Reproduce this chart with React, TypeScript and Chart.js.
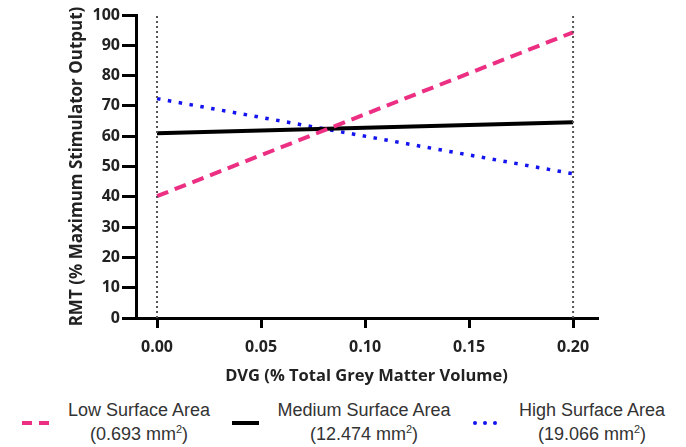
import React, { useEffect, useRef } from "react";
import { Chart, registerables } from "chart.js";

Chart.register(...registerables);

// ---- data ----
const xEnds = [0, 0.2];
const lowValues = [40.2, 94.3];
const mediumValues = [61.0, 64.6];
const highValues = [72.4, 47.6];
const xTicks = [0, 0.05, 0.1, 0.15, 0.2];
const yTicks = [0, 10, 20, 30, 40, 50, 60, 70, 80, 90, 100];
const refLineX = [0, 0.2];
const refLineY = [0, 100];

const legendItems = [
  { name: "Low Surface Area", area: "(0.693 mm", kind: "dash" },
  { name: "Medium Surface Area", area: "(12.474 mm", kind: "solid" },
  { name: "High Surface Area", area: "(19.066 mm", kind: "dot" },
];

const PINK = "#ec2f83";
const BLUE = "#1414ee";
const TICK_FONT = { family: "'Open Sans', sans-serif", size: 16, weight: "bold" as const };
const YTITLE_FONT = { family: "'Open Sans', sans-serif", size: 17, weight: "bold" as const };
const XTITLE_FONT = { family: "'Open Sans', sans-serif", size: 16.5, weight: "bold" as const };

function LegendSample({ kind }: { kind: string }) {
  if (kind === "dash") {
    return (
      <div style={{ position: "relative", width: 28, height: 4 }}>
        <div style={{ position: "absolute", left: 0, top: 0, width: 10, height: 4, background: PINK }} />
        <div style={{ position: "absolute", left: 17, top: 0, width: 10, height: 4, background: PINK }} />
      </div>
    );
  }
  if (kind === "solid") {
    return <div style={{ width: 27, height: 4, background: "#000" }} />;
  }
  return (
    <div style={{ position: "relative", width: 26, height: 4 }}>
      {[0, 10, 20].map((l) => (
        <div key={l} style={{ position: "absolute", left: l, top: 0, width: 3.5, height: 3.5, borderRadius: 2, background: BLUE }} />
      ))}
    </div>
  );
}

export default function App() {
  const ref = useRef<HTMLCanvasElement | null>(null);

  useEffect(() => {
    if (!ref.current) return;
    const toPts = (ys: number[]) => xEnds.map((x, i) => ({ x, y: ys[i] }));
    const refStyle = {
      showLine: true,
      borderColor: "#555",
      borderWidth: 2,
      borderDash: [2, 3],
      pointRadius: 0,
    };
    const chart = new Chart(ref.current, {
      type: "scatter",
      data: {
        datasets: [
          { ...refStyle, data: refLineY.map((y) => ({ x: refLineX[0], y })) },
          { ...refStyle, data: refLineY.map((y) => ({ x: refLineX[1], y })) },
          {
            label: "Low Surface Area",
            data: toPts(lowValues),
            showLine: true,
            borderColor: PINK,
            borderWidth: 4,
            borderDash: [12, 7],
            pointRadius: 0,
          },
          {
            label: "Medium Surface Area",
            data: toPts(mediumValues),
            showLine: true,
            borderColor: "#000",
            borderWidth: 4,
            pointRadius: 0,
          },
          {
            label: "High Surface Area",
            data: toPts(highValues),
            showLine: true,
            borderColor: BLUE,
            borderWidth: 3.5,
            borderDash: [3.5, 7.5],
            pointRadius: 0,
          },
        ],
      },
      options: {
        animation: false,
        responsive: false,
        maintainAspectRatio: false,
        layout: { padding: { top: 15, right: 89, left: 0, bottom: 0 } },
        plugins: { legend: { display: false }, tooltip: { enabled: false } },
        scales: {
          x: {
            type: "linear",
            min: -0.0101,
            max: 0.2115,
            afterFit: (s: any) => {
              s.height = 77;
            },
            afterBuildTicks: (s: any) => {
              s.ticks = xTicks.map((v) => ({ value: v }));
            },
            ticks: {
              font: TICK_FONT,
              color: "#222",
              padding: 10,
              maxRotation: 0,
              autoSkip: false,
              callback: (v: any) => Number(v).toFixed(2),
            },
            grid: {
              drawOnChartArea: false,
              drawTicks: true,
              tickLength: 10,
              tickWidth: 3,
              tickColor: "#000",
              lineWidth: 3,
              color: "#000",
            },
            border: { display: true, color: "#000", width: 3 },
            title: {
              display: true,
              text: "DVG (% Total Grey Matter Volume)",
              font: XTITLE_FONT,
              color: "#222",
              padding: { top: 0, bottom: 9 },
            },
          },
          y: {
            type: "linear",
            min: 0,
            max: 100,
            afterFit: (s: any) => {
              s.width = 136;
            },
            afterBuildTicks: (s: any) => {
              s.ticks = yTicks.map((v) => ({ value: v }));
            },
            ticks: {
              font: TICK_FONT,
              color: "#222",
              padding: 2,
              autoSkip: false,
            },
            grid: {
              drawOnChartArea: false,
              drawTicks: true,
              tickLength: 14,
              tickWidth: 3,
              tickColor: "#000",
              lineWidth: 3,
              color: "#000",
            },
            border: { display: true, color: "#000", width: 3 },
            title: {
              display: true,
              text: "RMT (% Maximum Stimulator Output)",
              font: YTITLE_FONT,
              color: "#222",
              padding: { top: 67, bottom: 0 },
            },
          },
        },
      },
    });
    return () => chart.destroy();
  }, []);

  const sampleX = [22, 232, 473];
  const textCenter = [139, 364, 592];

  return (
    <div style={{ position: "absolute", left: 0, top: 0, width: 686, height: 447, background: "#fff", overflow: "hidden" }}>
      <canvas ref={ref} width={686} height={395} style={{ position: "absolute", left: 0, top: 0 }} />
      {legendItems.map((it, i) => (
        <React.Fragment key={it.name}>
          <div style={{ position: "absolute", left: sampleX[i], top: 421 }}>
            <LegendSample kind={it.kind} />
          </div>
          <div
            style={{
              position: "absolute",
              left: textCenter[i] - 110,
              width: 220,
              top: 398,
              textAlign: "center",
              fontFamily: "'Liberation Sans', Arial, sans-serif",
              fontSize: 18,
              lineHeight: "24px",
              color: "#333",
            }}
          >
            <div>{it.name}</div>
            <div>
              {it.area}
              <span style={{ fontSize: 11, verticalAlign: "super", lineHeight: 0 }}>2</span>)
            </div>
          </div>
        </React.Fragment>
      ))}
    </div>
  );
}
